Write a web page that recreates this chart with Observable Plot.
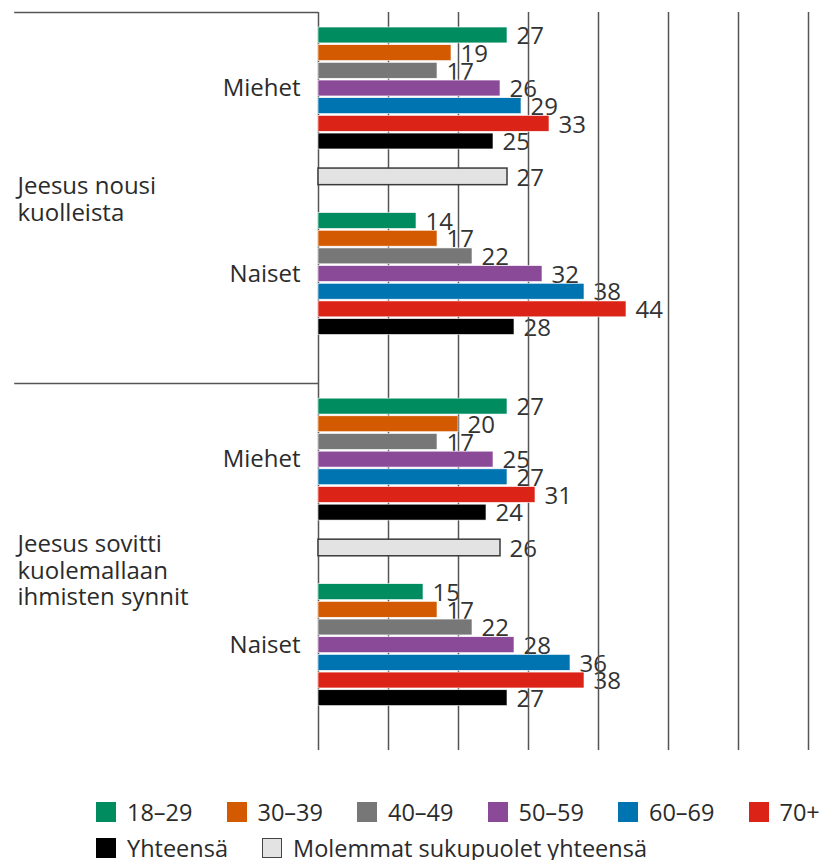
<!DOCTYPE html>
<html>
<head>
<meta charset="utf-8">
<script src="https://cdn.jsdelivr.net/npm/d3@7"></script>
<script src="https://cdn.jsdelivr.net/npm/@observablehq/plot@0.6"></script>
<style>
  body { margin: 0; background: #fff; font-family: "Open Sans", sans-serif; overflow: hidden; }
  #chart svg { display: block; }
  .legend { padding-left: 96px; margin-top: 10px; color: #2b2b2b; font-size: 23.5px; line-height: 24px; }
  .legend .row { display: flex; align-items: center; height: 24px; margin-bottom: 12px; }
  .legend .row:last-child { margin-bottom: 0; }
  .legend .item { display: flex; align-items: center; margin-right: 34px; white-space: nowrap; }
  .legend .sw { width: 20px; height: 20px; margin-right: 11px; box-sizing: border-box; }
</style>
</head>
<body>
<div id="chart"></div>
<div id="legend" class="legend"></div>
<script>
// ---- data ----
const questions = ["Jeesus nousi\nkuolleista", "Jeesus sovitti\nkuolemallaan\nihmisten synnit"];
const genders = ["Miehet", "Naiset"];
const ageGroups = ["18–29", "30–39", "40–49", "50–59", "60–69", "70+", "Yhteensä"];
const bothLabel = "Molemmat sukupuolet yhteensä";
const q1Miehet = [27, 19, 17, 26, 29, 33, 25];
const q1Naiset = [14, 17, 22, 32, 38, 44, 28];
const q2Miehet = [27, 20, 17, 25, 27, 31, 24];
const q2Naiset = [15, 17, 22, 28, 36, 38, 27];
const bothTotals = [27, 26];
const xTicks = [0, 10, 20, 30, 40, 50, 60, 70];
const seriesColors = ["#008c5f", "#d35a00", "#777777", "#8a4a98", "#0074b1", "#dc2318", "#000000"];
const bothColor = "#e3e3e3";

// ---- layout (row units) ----
const GROUP_ROWS = 21, BOTH_ROW = 8, NAISET_ROW = 10.5, TOP = -1.3, BOTTOM = 40.46;
const genderValues = [[q1Miehet, q1Naiset], [q2Miehet, q2Naiset]];
const rows = [];
const genderLabels = [];
const questionLabels = [];
questions.forEach((q, qi) => {
  const base = qi * GROUP_ROWS;
  genders.forEach((g, gi) => {
    const start = base + (gi === 0 ? 0 : NAISET_ROW);
    genderValues[qi][gi].forEach((v, i) => rows.push({series: ageGroups[i], value: v, row: start + i, both: false}));
    genderLabels.push({text: g, row: start + 3});
  });
  rows.push({series: bothLabel, value: bothTotals[qi], row: base + BOTH_ROW, both: true});
  questionLabels.push({text: q, row: base + 9.25, sep: base + TOP});
});

const chart = Plot.plot({
  width: 828,
  height: 790,
  marginLeft: 318,
  marginRight: 20,
  marginTop: 12,
  marginBottom: 40,
  style: {fontFamily: "Open Sans, sans-serif", fontSize: "24px", color: "#2b2b2b"},
  x: {domain: [0, 70], axis: null},
  y: {domain: [TOP, BOTTOM], reverse: true, axis: null},
  color: {domain: [...ageGroups, bothLabel], range: [...seriesColors, bothColor]},
  marks: [
    // value labels (under the grid, as in the original)
    Plot.text(rows, {x: "value", y: "row", text: d => String(d.value), textAnchor: "start", dx: 9, dy: 1,
      fill: "#333", fontSize: 24}),
    // grid
    Plot.ruleX(xTicks, {x: d => d, y1: TOP, y2: BOTTOM, stroke: "#555", strokeWidth: 1.5}),
    // separators on the left
    Plot.ruleY(questionLabels, {y: "sep", x1: -43.4, x2: 0, stroke: "#555", strokeWidth: 1.5}),
    // bars
    Plot.rectX(rows.filter(d => !d.both), {x1: 0, x2: "value", y1: d => d.row - 0.45, y2: d => d.row + 0.45,
      fill: "series", stroke: "white", strokeWidth: 0.6}),
    Plot.rectX(rows.filter(d => d.both), {x1: 0, x2: "value", y1: d => d.row - 0.47, y2: d => d.row + 0.47,
      fill: "series", stroke: "#3a3a3a", strokeWidth: 1.5}),
    // labels
    Plot.text(genderLabels, {x: 0, y: "row", text: "text", textAnchor: "end", dx: -18, fill: "#2b2b2b", fontSize: 24}),
    Plot.text(questionLabels, {x: -43, y: "row", text: "text", textAnchor: "start", lineHeight: 1.1,
      fill: "#2b2b2b", fontSize: 24})
  ]
});
document.getElementById("chart").appendChild(chart);

// ---- legend ----
const legend = document.getElementById("legend");
const legendRows = [ageGroups.slice(0, 6), [ageGroups[6], bothLabel]];
const colorOf = Object.fromEntries([...ageGroups.map((a, i) => [a, seriesColors[i]]), [bothLabel, bothColor]]);
legendRows.forEach(items => {
  const row = document.createElement("div");
  row.className = "row";
  items.forEach(label => {
    const item = document.createElement("div");
    item.className = "item";
    const sw = document.createElement("span");
    sw.className = "sw";
    sw.style.background = colorOf[label];
    if (label === bothLabel) sw.style.border = "1.5px solid #444";
    const t = document.createElement("span");
    t.textContent = label;
    item.appendChild(sw);
    item.appendChild(t);
    row.appendChild(item);
  });
  legend.appendChild(row);
});
</script>
</body>
</html>
